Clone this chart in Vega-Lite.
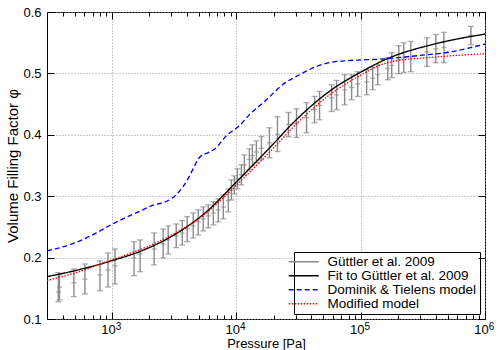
{
  "$schema": "https://vega.github.io/schema/vega-lite/v6.json",
  "width": 438,
  "height": 307,
  "autosize": {"type": "none"},
  "padding": {"left": 47, "top": 12, "right": 15, "bottom": 31},
  "config": {
    "view": {"stroke": "black", "strokeWidth": 1},
    "font": "Liberation Sans",
    "axis": {"labelFont": "Liberation Sans", "titleFont": "Liberation Sans", "labelColor": "black", "titleColor": "black", "tickColor": "black", "labelFontSize": 13, "titleFontWeight": "normal"},
    "legend": {"labelFont": "Liberation Sans"}
  },
  "datasets": {
    "err": [
      {"P": 370, "lo": 0.128, "hi": 0.1755, "phi": 0.144},
      {"P": 378, "lo": 0.131, "hi": 0.172, "phi": 0.152},
      {"P": 494, "lo": 0.1364, "hi": 0.1815, "phi": 0.159},
      {"P": 606, "lo": 0.1408, "hi": 0.1897, "phi": 0.165},
      {"P": 800, "lo": 0.146, "hi": 0.1946, "phi": 0.1717},
      {"P": 929, "lo": 0.152, "hi": 0.2076, "phi": 0.18},
      {"P": 1057, "lo": 0.157, "hi": 0.2141, "phi": 0.1864},
      {"P": 1504, "lo": 0.1706, "hi": 0.226, "phi": 0.1995},
      {"P": 1682, "lo": 0.1771, "hi": 0.2288, "phi": 0.206},
      {"P": 2181, "lo": 0.188, "hi": 0.2402, "phi": 0.2141},
      {"P": 2578, "lo": 0.1995, "hi": 0.2467, "phi": 0.2223},
      {"P": 2830, "lo": 0.206, "hi": 0.2516, "phi": 0.2288},
      {"P": 3283, "lo": 0.2163, "hi": 0.2549, "phi": 0.2353},
      {"P": 3670, "lo": 0.2207, "hi": 0.2603, "phi": 0.2402},
      {"P": 4025, "lo": 0.226, "hi": 0.2668, "phi": 0.2467},
      {"P": 4500, "lo": 0.2321, "hi": 0.2728, "phi": 0.2516},
      {"P": 4940, "lo": 0.237, "hi": 0.2777, "phi": 0.2582},
      {"P": 5420, "lo": 0.2435, "hi": 0.2826, "phi": 0.2631},
      {"P": 5945, "lo": 0.2484, "hi": 0.2859, "phi": 0.268},
      {"P": 6530, "lo": 0.2533, "hi": 0.2908, "phi": 0.2728},
      {"P": 7160, "lo": 0.2582, "hi": 0.2957, "phi": 0.2777},
      {"P": 7855, "lo": 0.2631, "hi": 0.3022, "phi": 0.2826},
      {"P": 8615, "lo": 0.2745, "hi": 0.312, "phi": 0.293},
      {"P": 9120, "lo": 0.294, "hi": 0.3266, "phi": 0.31},
      {"P": 9640, "lo": 0.3038, "hi": 0.3332, "phi": 0.318},
      {"P": 10190, "lo": 0.312, "hi": 0.3446, "phi": 0.328},
      {"P": 10970, "lo": 0.3185, "hi": 0.3511, "phi": 0.335},
      {"P": 11600, "lo": 0.3348, "hi": 0.3674, "phi": 0.351},
      {"P": 12730, "lo": 0.343, "hi": 0.3772, "phi": 0.36},
      {"P": 13460, "lo": 0.3495, "hi": 0.3837, "phi": 0.366},
      {"P": 14490, "lo": 0.3544, "hi": 0.3902, "phi": 0.372},
      {"P": 15910, "lo": 0.3593, "hi": 0.3972, "phi": 0.378},
      {"P": 18450, "lo": 0.3625, "hi": 0.4114, "phi": 0.387},
      {"P": 21420, "lo": 0.3728, "hi": 0.4294, "phi": 0.401},
      {"P": 26260, "lo": 0.3968, "hi": 0.4364, "phi": 0.417},
      {"P": 30470, "lo": 0.3956, "hi": 0.4424, "phi": 0.419},
      {"P": 36700, "lo": 0.4033, "hi": 0.4522, "phi": 0.428},
      {"P": 42560, "lo": 0.4196, "hi": 0.4625, "phi": 0.441},
      {"P": 46700, "lo": 0.4245, "hi": 0.4706, "phi": 0.448},
      {"P": 58340, "lo": 0.438, "hi": 0.4815, "phi": 0.46},
      {"P": 63980, "lo": 0.4408, "hi": 0.4886, "phi": 0.465},
      {"P": 74300, "lo": 0.4489, "hi": 0.4978, "phi": 0.473},
      {"P": 84580, "lo": 0.4571, "hi": 0.4978, "phi": 0.477},
      {"P": 94600, "lo": 0.4625, "hi": 0.5027, "phi": 0.483},
      {"P": 111700, "lo": 0.4652, "hi": 0.506, "phi": 0.486},
      {"P": 125000, "lo": 0.4734, "hi": 0.5098, "phi": 0.492},
      {"P": 137100, "lo": 0.4815, "hi": 0.5141, "phi": 0.498},
      {"P": 165100, "lo": 0.4897, "hi": 0.5256, "phi": 0.508},
      {"P": 177800, "lo": 0.493, "hi": 0.5337, "phi": 0.513},
      {"P": 202400, "lo": 0.4995, "hi": 0.5451, "phi": 0.522},
      {"P": 222100, "lo": 0.5016, "hi": 0.55, "phi": 0.526},
      {"P": 252900, "lo": 0.5027, "hi": 0.5521, "phi": 0.527},
      {"P": 340600, "lo": 0.5114, "hi": 0.5582, "phi": 0.535},
      {"P": 402500, "lo": 0.5174, "hi": 0.5631, "phi": 0.54},
      {"P": 467000, "lo": 0.5174, "hi": 0.5668, "phi": 0.542},
      {"P": 771000, "lo": 0.5468, "hi": 0.5766, "phi": 0.562}
    ],
    "curves": [
      {"series": "Fit to Güttler et al. 2009", "P": 300, "phi": 0.169},
      {"series": "Fit to Güttler et al. 2009", "P": 562, "phi": 0.181},
      {"series": "Fit to Güttler et al. 2009", "P": 1000, "phi": 0.195},
      {"series": "Fit to Güttler et al. 2009", "P": 1778, "phi": 0.212},
      {"series": "Fit to Güttler et al. 2009", "P": 3162, "phi": 0.237},
      {"series": "Fit to Güttler et al. 2009", "P": 5623, "phi": 0.273},
      {"series": "Fit to Güttler et al. 2009", "P": 10000, "phi": 0.323},
      {"series": "Fit to Güttler et al. 2009", "P": 17783, "phi": 0.375},
      {"series": "Fit to Güttler et al. 2009", "P": 31623, "phi": 0.428},
      {"series": "Fit to Güttler et al. 2009", "P": 56234, "phi": 0.471},
      {"series": "Fit to Güttler et al. 2009", "P": 100000, "phi": 0.502},
      {"series": "Fit to Güttler et al. 2009", "P": 177828, "phi": 0.527},
      {"series": "Fit to Güttler et al. 2009", "P": 316228, "phi": 0.543},
      {"series": "Fit to Güttler et al. 2009", "P": 562341, "phi": 0.555},
      {"series": "Fit to Güttler et al. 2009", "P": 1000000, "phi": 0.564},
      {"series": "Dominik & Tielens model", "P": 300, "phi": 0.2109},
      {"series": "Dominik & Tielens model", "P": 494, "phi": 0.2234},
      {"series": "Dominik & Tielens model", "P": 785, "phi": 0.2424},
      {"series": "Dominik & Tielens model", "P": 1000, "phi": 0.2544},
      {"series": "Dominik & Tielens model", "P": 1250, "phi": 0.264},
      {"series": "Dominik & Tielens model", "P": 1651, "phi": 0.275},
      {"series": "Dominik & Tielens model", "P": 2181, "phi": 0.286},
      {"series": "Dominik & Tielens model", "P": 2627, "phi": 0.29},
      {"series": "Dominik & Tielens model", "P": 2990, "phi": 0.2957},
      {"series": "Dominik & Tielens model", "P": 3470, "phi": 0.3076},
      {"series": "Dominik & Tielens model", "P": 4025, "phi": 0.326},
      {"series": "Dominik & Tielens model", "P": 4500, "phi": 0.345},
      {"series": "Dominik & Tielens model", "P": 5030, "phi": 0.3627},
      {"series": "Dominik & Tielens model", "P": 6057, "phi": 0.3718},
      {"series": "Dominik & Tielens model", "P": 6640, "phi": 0.3765},
      {"series": "Dominik & Tielens model", "P": 8460, "phi": 0.4},
      {"series": "Dominik & Tielens model", "P": 10570, "phi": 0.4146},
      {"series": "Dominik & Tielens model", "P": 12730, "phi": 0.4326},
      {"series": "Dominik & Tielens model", "P": 17460, "phi": 0.457},
      {"series": "Dominik & Tielens model", "P": 23500, "phi": 0.4815},
      {"series": "Dominik & Tielens model", "P": 32200, "phi": 0.4978},
      {"series": "Dominik & Tielens model", "P": 44200, "phi": 0.5114},
      {"series": "Dominik & Tielens model", "P": 59450, "phi": 0.5185},
      {"series": "Dominik & Tielens model", "P": 81500, "phi": 0.521},
      {"series": "Dominik & Tielens model", "P": 150400, "phi": 0.5235},
      {"series": "Dominik & Tielens model", "P": 283000, "phi": 0.5288},
      {"series": "Dominik & Tielens model", "P": 522000, "phi": 0.5348},
      {"series": "Dominik & Tielens model", "P": 1000000, "phi": 0.5479},
      {"series": "Modified model", "P": 300, "phi": 0.1625},
      {"series": "Modified model", "P": 562, "phi": 0.178},
      {"series": "Modified model", "P": 1000, "phi": 0.1965},
      {"series": "Modified model", "P": 1778, "phi": 0.215},
      {"series": "Modified model", "P": 3162, "phi": 0.239},
      {"series": "Modified model", "P": 5623, "phi": 0.271},
      {"series": "Modified model", "P": 10000, "phi": 0.318},
      {"series": "Modified model", "P": 17783, "phi": 0.368},
      {"series": "Modified model", "P": 31623, "phi": 0.421},
      {"series": "Modified model", "P": 56234, "phi": 0.465},
      {"series": "Modified model", "P": 100000, "phi": 0.497},
      {"series": "Modified model", "P": 150400, "phi": 0.515},
      {"series": "Modified model", "P": 200000, "phi": 0.521},
      {"series": "Modified model", "P": 316228, "phi": 0.525},
      {"series": "Modified model", "P": 562341, "phi": 0.529},
      {"series": "Modified model", "P": 1000000, "phi": 0.532}
    ]
  },
  "resolve": {"axis": {"x": "independent", "y": "independent"}},
  "layer": [
    {
      "data": {"name": "err"},
      "mark": {"type": "rule", "color": "#8a8a8a", "strokeWidth": 1.4},
      "encoding": {
        "x": {"field": "P", "type": "quantitative", "scale": {"type": "log", "domain": [300, 1000000]},
          "axis": {"orient": "bottom", "values": [1000, 10000, 100000, 1000000], "labelExpr": "'10'", "labelOffset": -4, "ticks": false, "domain": false, "grid": true, "gridDash": [1, 2], "gridColor": "#9a9a9a", "labelPadding": 4, "labelFlush": false, "labelOverlap": false, "title": "Pressure [Pa]", "titleFontSize": 13, "titlePadding": 1, "zindex": 0}},
        "y": {"field": "lo", "type": "quantitative", "scale": {"domain": [0.1, 0.6], "zero": false, "nice": false},
          "axis": {"orient": "left", "values": [0.1, 0.2, 0.3, 0.4, 0.5, 0.6], "format": ".1f", "ticks": false, "domain": false, "grid": true, "gridDash": [1, 2], "gridColor": "#9a9a9a", "labelPadding": 6, "title": "Volume Filling Factor φ", "titleFontSize": 15, "titlePadding": 2, "zindex": 0}},
        "y2": {"field": "hi"}
      }
    },
    {
      "data": {"name": "err"},
      "mark": {"type": "tick", "orient": "horizontal", "color": "#8a8a8a", "size": 6, "thickness": 1.3},
      "encoding": {
        "x": {"field": "P", "type": "quantitative", "scale": {"type": "log", "domain": [300, 1000000]},
          "axis": {"orient": "bottom", "values": [1000, 10000, 100000, 1000000], "labels": true, "labelExpr": "datum.value == 1000 ? '3' : datum.value == 10000 ? '4' : datum.value == 100000 ? '5' : '6'", "labelFontSize": 10, "labelOffset": 6, "labelPadding": 9, "labelFlush": false, "labelOverlap": false, "grid": false, "domain": false, "tickSize": -7, "tickWidth": 1, "title": null, "zindex": 1}},
        "y": {"field": "lo", "type": "quantitative", "scale": {"domain": [0.1, 0.6], "zero": false, "nice": false},
          "axis": {"orient": "left", "values": [0.1, 0.2, 0.3, 0.4, 0.5, 0.6], "labels": false, "grid": false, "domain": false, "tickSize": -7, "tickWidth": 1, "title": null, "zindex": 1}}
      }
    },
    {
      "data": {"name": "err"},
      "mark": {"type": "tick", "orient": "horizontal", "color": "#8a8a8a", "size": 6, "thickness": 1.3},
      "encoding": {
        "x": {"field": "P", "type": "quantitative", "scale": {"type": "log", "domain": [300, 1000000]},
          "axis": {"orient": "bottom", "values": [400, 500, 600, 700, 800, 900, 2000, 3000, 4000, 5000, 6000, 7000, 8000, 9000, 20000, 30000, 40000, 50000, 60000, 70000, 80000, 90000, 200000, 300000, 400000, 500000, 600000, 700000, 800000, 900000], "labels": false, "grid": false, "domain": false, "tickSize": -4, "tickWidth": 1, "title": null, "zindex": 1}},
        "y": {"field": "hi", "type": "quantitative", "scale": {"domain": [0.1, 0.6], "zero": false, "nice": false},
          "axis": {"orient": "right", "values": [0.1, 0.2, 0.3, 0.4, 0.5, 0.6], "labels": false, "grid": false, "domain": false, "tickSize": -7, "tickWidth": 1, "title": null, "zindex": 1}}
      }
    },
    {
      "data": {"name": "err"},
      "mark": {"type": "tick", "orient": "horizontal", "color": "#8a8a8a", "size": 5, "thickness": 1.3},
      "encoding": {
        "x": {"field": "P", "type": "quantitative", "scale": {"type": "log", "domain": [300, 1000000]},
          "axis": {"orient": "top", "values": [1000, 10000, 100000, 1000000], "labels": false, "grid": false, "domain": false, "tickSize": -7, "tickWidth": 1, "title": null, "zindex": 1}},
        "y": {"field": "phi", "type": "quantitative", "scale": {"domain": [0.1, 0.6], "zero": false, "nice": false}, "axis": null}
      }
    },
    {
      "data": {"name": "curves"},
      "mark": {"type": "line", "interpolate": "monotone"},
      "encoding": {
        "x": {"field": "P", "type": "quantitative", "scale": {"type": "log", "domain": [300, 1000000]},
          "axis": {"orient": "top", "values": [400, 500, 600, 700, 800, 900, 2000, 3000, 4000, 5000, 6000, 7000, 8000, 9000, 20000, 30000, 40000, 50000, 60000, 70000, 80000, 90000, 200000, 300000, 400000, 500000, 600000, 700000, 800000, 900000], "labels": false, "grid": false, "domain": false, "tickSize": -4, "tickWidth": 1, "title": null, "zindex": 1}},
        "y": {"field": "phi", "type": "quantitative", "scale": {"domain": [0.1, 0.6], "zero": false, "nice": false}, "axis": null},
        "color": {"field": "series", "type": "nominal",
          "scale": {"domain": ["Güttler et al. 2009", "Fit to Güttler et al. 2009", "Dominik & Tielens model", "Modified model"], "range": ["#8a8a8a", "#000000", "#0000ff", "#ff0000"]},
          "legend": {"orient": "bottom-right", "offset": 5, "title": null, "strokeColor": "black", "fillColor": "white", "padding": 3, "cornerRadius": 0, "symbolType": "M-3,0H3", "symbolSize": 100, "symbolStrokeWidth": 1.5, "labelFontSize": 13.5, "labelOffset": 17, "rowPadding": -1, "labelColor": "black"}},
        "strokeDash": {"field": "series", "type": "nominal",
          "scale": {"domain": ["Güttler et al. 2009", "Fit to Güttler et al. 2009", "Dominik & Tielens model", "Modified model"], "range": [[1, 0], [1, 0], [5, 3], [1.5, 1.5]]},
          "legend": {"orient": "bottom-right", "offset": 5, "title": null}},
        "strokeWidth": {"field": "series", "type": "nominal",
          "scale": {"domain": ["Güttler et al. 2009", "Fit to Güttler et al. 2009", "Dominik & Tielens model", "Modified model"], "range": [1.4, 1.3, 2, 1.8]},
          "legend": null}
      }
    }
  ]
}
